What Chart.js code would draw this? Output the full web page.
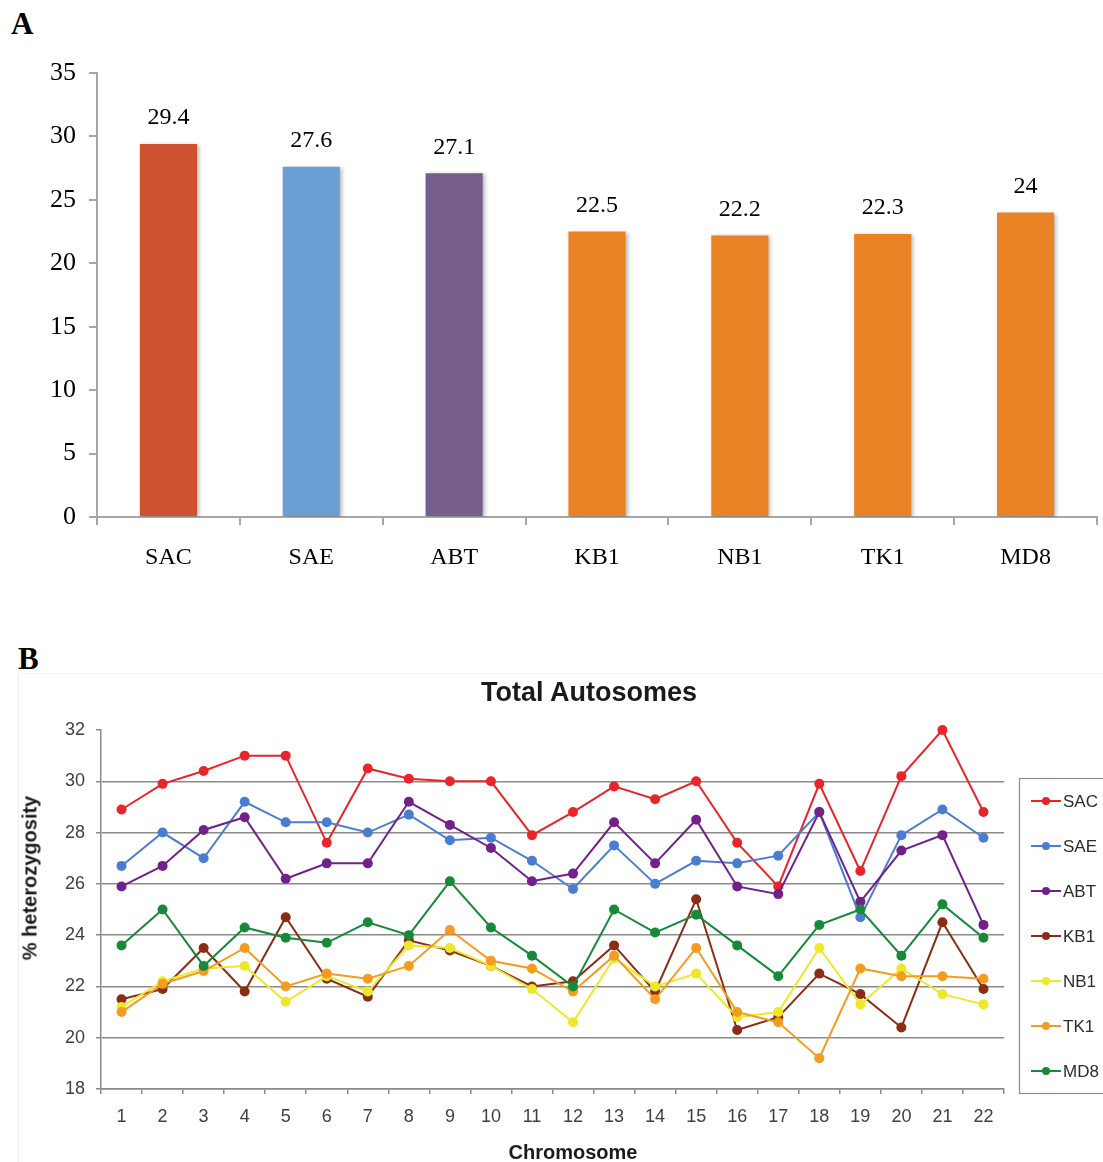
<!DOCTYPE html>
<html>
<head>
<meta charset="utf-8">
<script src="https://cdn.jsdelivr.net/npm/chart.js@4.4.1/dist/chart.umd.min.js"></script>
<style>
    body { margin: 0; background: #fff; width: 1103px; height: 1162px; overflow: hidden; position: relative; }
    .panel { position: absolute; left: 0; width: 1103px; }
    .letra { position: absolute; font-family: "Liberation Serif", serif; font-weight: bold; font-size: 31px; color: #000; }
    .titulo { position: absolute; font-family: "Liberation Sans", Arial, sans-serif; font-weight: bold; color: #1a1a1a; white-space: nowrap; }
    .marco { position: absolute; left: 18px; top: 673px; width: 1110px; height: 520px; border-left: 1px solid #ececec; border-top: 1px solid #f6f6f6; }
</style>
</head>
<body>
<div class="letra" style="left:11px; top:6px;">A</div>
<div class="panel" style="top:0; height:600px;"><canvas id="chartPromedio"></canvas></div>

<div class="marco"></div>
<div class="letra" style="left:18px; top:641px;">B</div>
<div class="panel" style="top:640px; height:522px;"><canvas id="chartAutosomas"></canvas></div>
<div class="titulo" style="left:589px; top:692px; font-size:27px; transform:translate(-50%,-50%);">Total Autosomes</div>
<div class="titulo" style="left:30px; top:878px; font-size:20px; transform:translate(-50%,-50%) rotate(-90deg);">% heterozygosity</div>
<div class="titulo" style="left:573px; top:1152px; font-size:20px; transform:translate(-50%,-50%);">Chromosome</div>

<script>
//////////////////////////////////////////////////////////////////////////////////////
/// DATOS ///////////////////////////////////////////////////////////////////////////
//////////////////////////////////////////////////////////////////////////////////////
const poblaciones = ["SAC", "SAE", "ABT", "KB1", "NB1", "TK1", "MD8"];
const promedios = [29.4, 27.6, 27.1, 22.5, 22.2, 22.3, 24];
const coloresBarras = ["#cf5230", "#6a9fd4", "#755e8c", "#e98326", "#e98326", "#e98326", "#e98326"];
const ticksPromedio = [0, 5, 10, 15, 20, 25, 30, 35];

const cromosomas = ["1","2","3","4","5","6","7","8","9","10","11","12","13","14","15","16","17","18","19","20","21","22"];
const SAC = [28.9, 29.9, 30.4, 31.0, 31.0, 27.6, 30.5, 30.1, 30.0, 30.0, 27.9, 28.8, 29.8, 29.3, 30.0, 27.6, 25.9, 29.9, 26.5, 30.2, 32.0, 28.8];
const SAE = [26.7, 28.0, 27.0, 29.2, 28.4, 28.4, 28.0, 28.7, 27.7, 27.8, 26.9, 25.8, 27.5, 26.0, 26.9, 26.8, 27.1, 28.8, 24.7, 27.9, 28.9, 27.8];
const ABT = [25.9, 26.7, 28.1, 28.6, 26.2, 26.8, 26.8, 29.2, 28.3, 27.4, 26.1, 26.4, 28.4, 26.8, 28.5, 25.9, 25.6, 28.8, 25.3, 27.3, 27.9, 24.4];
const KB1 = [21.5, 21.9, 23.5, 21.8, 24.7, 22.3, 21.6, 23.8, 23.4, 22.8, 22.0, 22.2, 23.6, 21.8, 25.4, 20.3, 20.8, 22.5, 21.7, 20.4, 24.5, 21.9];
const NB1 = [21.2, 22.2, 22.7, 22.8, 21.4, 22.4, 21.8, 23.6, 23.5, 22.8, 21.9, 20.6, 23.1, 22.0, 22.5, 20.8, 21.0, 23.5, 21.3, 22.7, 21.7, 21.3];
const TK1 = [21.0, 22.1, 22.6, 23.5, 22.0, 22.5, 22.3, 22.8, 24.2, 23.0, 22.7, 21.8, 23.2, 21.5, 23.5, 21.0, 20.6, 19.2, 22.7, 22.4, 22.4, 22.3];
const MD8 = [23.6, 25.0, 22.8, 24.3, 23.9, 23.7, 24.5, 24.0, 26.1, 24.3, 23.2, 22.0, 25.0, 24.1, 24.8, 23.6, 22.4, 24.4, 25.0, 23.2, 25.2, 23.9];
const coloresLineas = ["#e8252a", "#4a7dd0", "#72208a", "#8a2d14", "#eee82a", "#f49c20", "#168a38"];
const ticksHetero = [18, 20, 22, 24, 26, 28, 30, 32];

const fuenteSerif = "'Liberation Serif', 'Times New Roman', serif";
const fuenteSans = "'Liberation Sans', Arial, sans-serif";

//////////////////////////////////////////////////////////////////////////////////////
/// PLUGINS /////////////////////////////////////////////////////////////////////////
//////////////////////////////////////////////////////////////////////////////////////
const sombraBarras = {
    id: "sombraBarras",
    beforeDatasetsDraw(chart) {
        const ctx = chart.ctx;
        ctx.save();
        ctx.shadowColor = "rgba(0,0,0,0.28)";
        ctx.shadowBlur = 4;
        ctx.shadowOffsetX = 2;
        ctx.shadowOffsetY = 1;
    },
    afterDatasetsDraw(chart) {
        chart.ctx.restore();
    }
};

const etiquetasValor = {
    id: "etiquetasValor",
    afterDraw(chart) {
        const ctx = chart.ctx;
        const meta = chart.getDatasetMeta(0);
        ctx.save();
        ctx.font = `24px ${fuenteSerif}`;
        ctx.fillStyle = "#000";
        ctx.textAlign = "center";
        ctx.textBaseline = "middle";
        meta.data.forEach((barra, i) => {
            ctx.fillText(String(chart.data.datasets[0].data[i]), barra.x, barra.y - 26);
        });
        ctx.restore();
    }
};

const leyendaCaja = {
    id: "leyendaCaja",
    afterDraw(chart) {
        const ctx = chart.ctx;
        const x0 = 1019, y0 = 138, alto = 315, paso = 45;
        ctx.save();
        ctx.strokeStyle = "#8c8c8c";
        ctx.lineWidth = 1.2;
        ctx.strokeRect(x0 + 0.5, y0 + 0.5, 120, alto);
        ctx.font = `17px ${fuenteSans}`;
        ctx.textBaseline = "middle";
        ctx.textAlign = "left";
        chart.data.datasets.forEach((ds, i) => {
            const y = y0 + 23 + i * paso;
            ctx.strokeStyle = ds.borderColor;
            ctx.lineWidth = 2;
            ctx.beginPath();
            ctx.moveTo(x0 + 12, y);
            ctx.lineTo(x0 + 42, y);
            ctx.stroke();
            ctx.fillStyle = ds.borderColor;
            ctx.beginPath();
            ctx.arc(x0 + 27, y, 4, 0, Math.PI * 2);
            ctx.fill();
            ctx.fillStyle = "#2b2b2b";
            ctx.fillText(ds.label, x0 + 44, y + 1);
        });
        ctx.restore();
    }
};

//////////////////////////////////////////////////////////////////////////////////////
/// PANEL A: BARRAS /////////////////////////////////////////////////////////////////
//////////////////////////////////////////////////////////////////////////////////////
function MostrarPromedio() {
    const gris = "#a6a6a6";
    new Chart(document.getElementById("chartPromedio"), {
        type: "bar",
        data: {
            labels: poblaciones,
            datasets: [{
                data: promedios,
                backgroundColor: coloresBarras,
                borderWidth: 0,
                barPercentage: 0.4,
                categoryPercentage: 1.0
            }]
        },
        options: {
            responsive: true,
            maintainAspectRatio: false,
            animation: false,
            layout: { padding: { left: 0, top: 73, right: 6, bottom: 0 } },
            plugins: { legend: { display: false }, tooltip: { enabled: false } },
            scales: {
                x: {
                    grid: { offset: true, drawOnChartArea: false, tickLength: 8, color: gris, lineWidth: 2 },
                    border: { color: gris, width: 2 },
                    ticks: { font: { family: fuenteSerif, size: 24 }, color: "#000", padding: 18 },
                    afterFit: s => { s.height = 83; }
                },
                y: {
                    min: 0,
                    max: 35,
                    afterBuildTicks: s => { s.ticks = ticksPromedio.map(v => ({ value: v })); },
                    grid: { drawOnChartArea: false, tickLength: 8, color: gris, lineWidth: 2 },
                    border: { color: gris, width: 2 },
                    ticks: { font: { family: fuenteSerif, size: 26 }, color: "#000", padding: 13 },
                    afterFit: s => { s.width = 97; }
                }
            }
        },
        plugins: [sombraBarras, etiquetasValor]
    });
}

//////////////////////////////////////////////////////////////////////////////////////
/// PANEL B: LINEAS /////////////////////////////////////////////////////////////////
//////////////////////////////////////////////////////////////////////////////////////
function MostrarAutosomas() {
    const series = [
        { label: "SAC", data: SAC },
        { label: "SAE", data: SAE },
        { label: "ABT", data: ABT },
        { label: "KB1", data: KB1 },
        { label: "NB1", data: NB1 },
        { label: "TK1", data: TK1 },
        { label: "MD8", data: MD8 }
    ];
    const gris = "#8a8a8a";

    new Chart(document.getElementById("chartAutosomas"), {
        type: "line",
        data: {
            labels: cromosomas,
            datasets: series.map((s, i) => ({
                label: s.label,
                data: s.data,
                borderColor: coloresLineas[i],
                backgroundColor: coloresLineas[i],
                borderWidth: 2,
                pointRadius: 5,
                pointBorderWidth: 0,
                tension: 0,
                clip: false,
                order: series.length - i
            }))
        },
        options: {
            responsive: true,
            maintainAspectRatio: false,
            animation: false,
            layout: { padding: { left: 0, top: 90, right: 99, bottom: 0 } },
            plugins: { legend: { display: false }, tooltip: { enabled: false } },
            scales: {
                x: {
                    type: "category",
                    offset: true,
                    grid: { offset: true, drawOnChartArea: false, tickLength: 5, color: gris, lineWidth: 1.5 },
                    border: { color: gris, width: 1.5 },
                    ticks: { font: { family: fuenteSans, size: 18 }, color: "#404040", padding: 12 },
                    afterFit: s => { s.height = 73; }
                },
                y: {
                    min: 18,
                    max: 32,
                    afterBuildTicks: s => { s.ticks = ticksHetero.map(v => ({ value: v })); },
                    grid: {
                        tickLength: 5,
                        lineWidth: 1.5,
                        tickColor: gris,
                        color: c => (c.tick && c.tick.value === 32) ? "rgba(0,0,0,0)" : gris
                    },
                    border: { color: gris, width: 1.5 },
                    ticks: { font: { family: fuenteSans, size: 18 }, color: "#404040", padding: 11 },
                    afterFit: s => { s.width = 101; }
                }
            }
        },
        plugins: [leyendaCaja]
    });
}

//////////////////////////////////////////////////////////////////////////////////////
/// INICIALIZAR /////////////////////////////////////////////////////////////////////
//////////////////////////////////////////////////////////////////////////////////////
MostrarPromedio();
MostrarAutosomas();
</script>
</body>
</html>
